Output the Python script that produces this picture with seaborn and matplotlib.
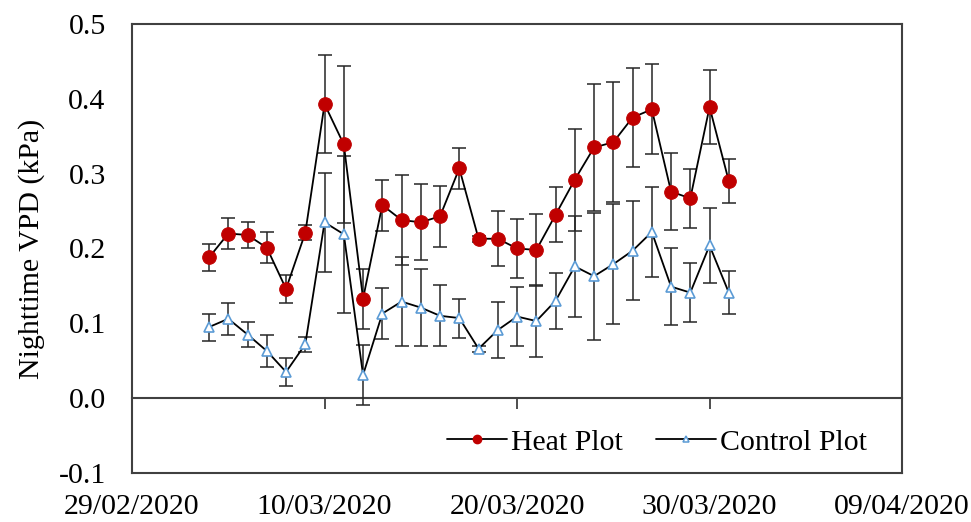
import pandas as pd
import matplotlib
matplotlib.use('Agg')
import matplotlib.pyplot as plt
import matplotlib.dates as mdates
from matplotlib.lines import Line2D
import seaborn as sns

days = ['2020-03-04', '2020-03-05', '2020-03-06', '2020-03-07', '2020-03-08',
        '2020-03-09', '2020-03-10', '2020-03-11', '2020-03-12', '2020-03-13',
        '2020-03-14', '2020-03-15', '2020-03-16', '2020-03-17', '2020-03-18',
        '2020-03-19', '2020-03-20', '2020-03-21', '2020-03-22', '2020-03-23',
        '2020-03-24', '2020-03-25', '2020-03-26', '2020-03-27', '2020-03-28',
        '2020-03-29', '2020-03-30', '2020-03-31']

heat_vpd = [0.188, 0.220, 0.218, 0.201, 0.146, 0.221, 0.393, 0.339, 0.133, 0.258,
            0.238, 0.235, 0.243, 0.307, 0.213, 0.213, 0.200, 0.198, 0.245, 0.292,
            0.335, 0.342, 0.375, 0.386, 0.276, 0.267, 0.389, 0.290]
control_vpd = [0.095, 0.106, 0.085, 0.063, 0.035, 0.072, 0.235, 0.219, 0.031, 0.113,
               0.129, 0.121, 0.110, 0.107, 0.066, 0.091, 0.109, 0.103, 0.130, 0.176,
               0.163, 0.179, 0.197, 0.222, 0.149, 0.141, 0.204, 0.141]
heat_err = [0.018, 0.021, 0.017, 0.021, 0.019, 0.010, 0.066, 0.105, 0.040, 0.034,
            0.060, 0.051, 0.041, 0.027, 0.004, 0.037, 0.039, 0.048, 0.037, 0.068,
            0.085, 0.080, 0.066, 0.060, 0.051, 0.039, 0.050, 0.029]
control_err = [0.018, 0.021, 0.017, 0.021, 0.019, 0.010, 0.066, 0.105, 0.040, 0.034,
               0.060, 0.051, 0.041, 0.026, 0.004, 0.037, 0.039, 0.048, 0.037, 0.068,
               0.085, 0.080, 0.066, 0.060, 0.051, 0.039, 0.050, 0.029]

x_ticks = ['2020-02-29', '2020-03-10', '2020-03-20', '2020-03-30', '2020-04-09']
y_ticks = [-0.1, 0.0, 0.1, 0.2, 0.3, 0.4, 0.5]

df = pd.DataFrame({
    'date': pd.to_datetime(days),
    'heat': heat_vpd,
    'control': control_vpd,
    'heat_err': heat_err,
    'control_err': control_err,
})

sns.set_style('white')
plt.rcParams['font.family'] = ['Liberation Serif', 'DejaVu Serif']
plt.rcParams['text.color'] = 'black'
plt.rcParams['axes.labelcolor'] = 'black'

frame_col = '#404040'
blue = '#5B9BD5'
red = '#C00000'

fig, ax = plt.subplots(figsize=(9.71, 5.22), dpi=100)
fig.subplots_adjust(left=0.136, right=0.929, top=0.954, bottom=0.094)

# error bars first
ax.errorbar(df['date'], df['heat'], yerr=df['heat_err'], fmt='none',
            ecolor='#262626', elinewidth=1.1, capsize=5, capthick=1.1, zorder=2)
ax.errorbar(df['date'], df['control'], yerr=df['control_err'], fmt='none',
            ecolor='#262626', elinewidth=1.1, capsize=5, capthick=1.1, zorder=2)

sns.lineplot(data=df, x='date', y='heat', ax=ax, color='black', linewidth=1.3,
             marker='o', markersize=9.8, markerfacecolor=red,
             markeredgecolor=red, zorder=3, legend=False)
sns.lineplot(data=df, x='date', y='control', ax=ax, color='black', linewidth=1.3,
             marker='^', markersize=7.5, markerfacecolor='white',
             markeredgecolor=blue, markeredgewidth=1.2, zorder=3, legend=False)

ax.set_xlim(pd.Timestamp(x_ticks[0]), pd.Timestamp(x_ticks[-1]))
ax.set_ylim(-0.1, 0.5)
ax.set_xticks(pd.to_datetime(x_ticks))
ax.xaxis.set_major_formatter(mdates.DateFormatter('%d/%m/%Y'))
ax.set_yticks(y_ticks)
ax.set_yticklabels([f'{v:.1f}' for v in y_ticks])
ax.tick_params(axis='both', length=0, labelsize=21.5, colors='black')
ax.tick_params(axis='y', pad=19)
ax.tick_params(axis='x', pad=15)

ax.set_xlabel('')
ax.set_ylabel('Nighttime VPD (kPa)', fontsize=21.5, labelpad=10, color='black')

for sp in ax.spines.values():
    sp.set_visible(True)
    sp.set_color(frame_col)
    sp.set_linewidth(1.5)

# zero line with tick marks (Excel-style axis crossing at 0)
zero_frac = (0 - (-0.1)) / 0.6
sec = ax.secondary_xaxis(zero_frac)
sec.set_xticks(pd.to_datetime(x_ticks))
sec.tick_params(axis='x', direction='out', length=8, width=1.3,
                colors=frame_col, labelbottom=False, labeltop=False,
                bottom=True, top=False)
sec.xaxis.set_ticks_position('bottom')
sec.xaxis.set_major_formatter(plt.NullFormatter())
for name, sp in sec.spines.items():
    sp.set_visible(name == 'bottom')
sec.spines['bottom'].set_color(frame_col)
sec.spines['bottom'].set_linewidth(1.5)

handles = [
    Line2D([], [], color='black', linewidth=1.3, marker='o', markersize=6,
           markerfacecolor=red, markeredgecolor=red),
    Line2D([], [], color='black', linewidth=1.3, marker='^', markersize=5,
           markerfacecolor='white', markeredgecolor=blue, markeredgewidth=1.1),
]
leg = ax.legend(handles, ['Heat Plot', 'Control Plot'], ncol=2, frameon=False,
                fontsize=21.5, loc='center right', bbox_to_anchor=(0.97, 0.068),
                handlelength=2.0, handletextpad=0.15, columnspacing=1.1,
                borderaxespad=0)
for t in leg.get_texts():
    t.set_color('black')

fig.savefig('out.png', dpi=100)
